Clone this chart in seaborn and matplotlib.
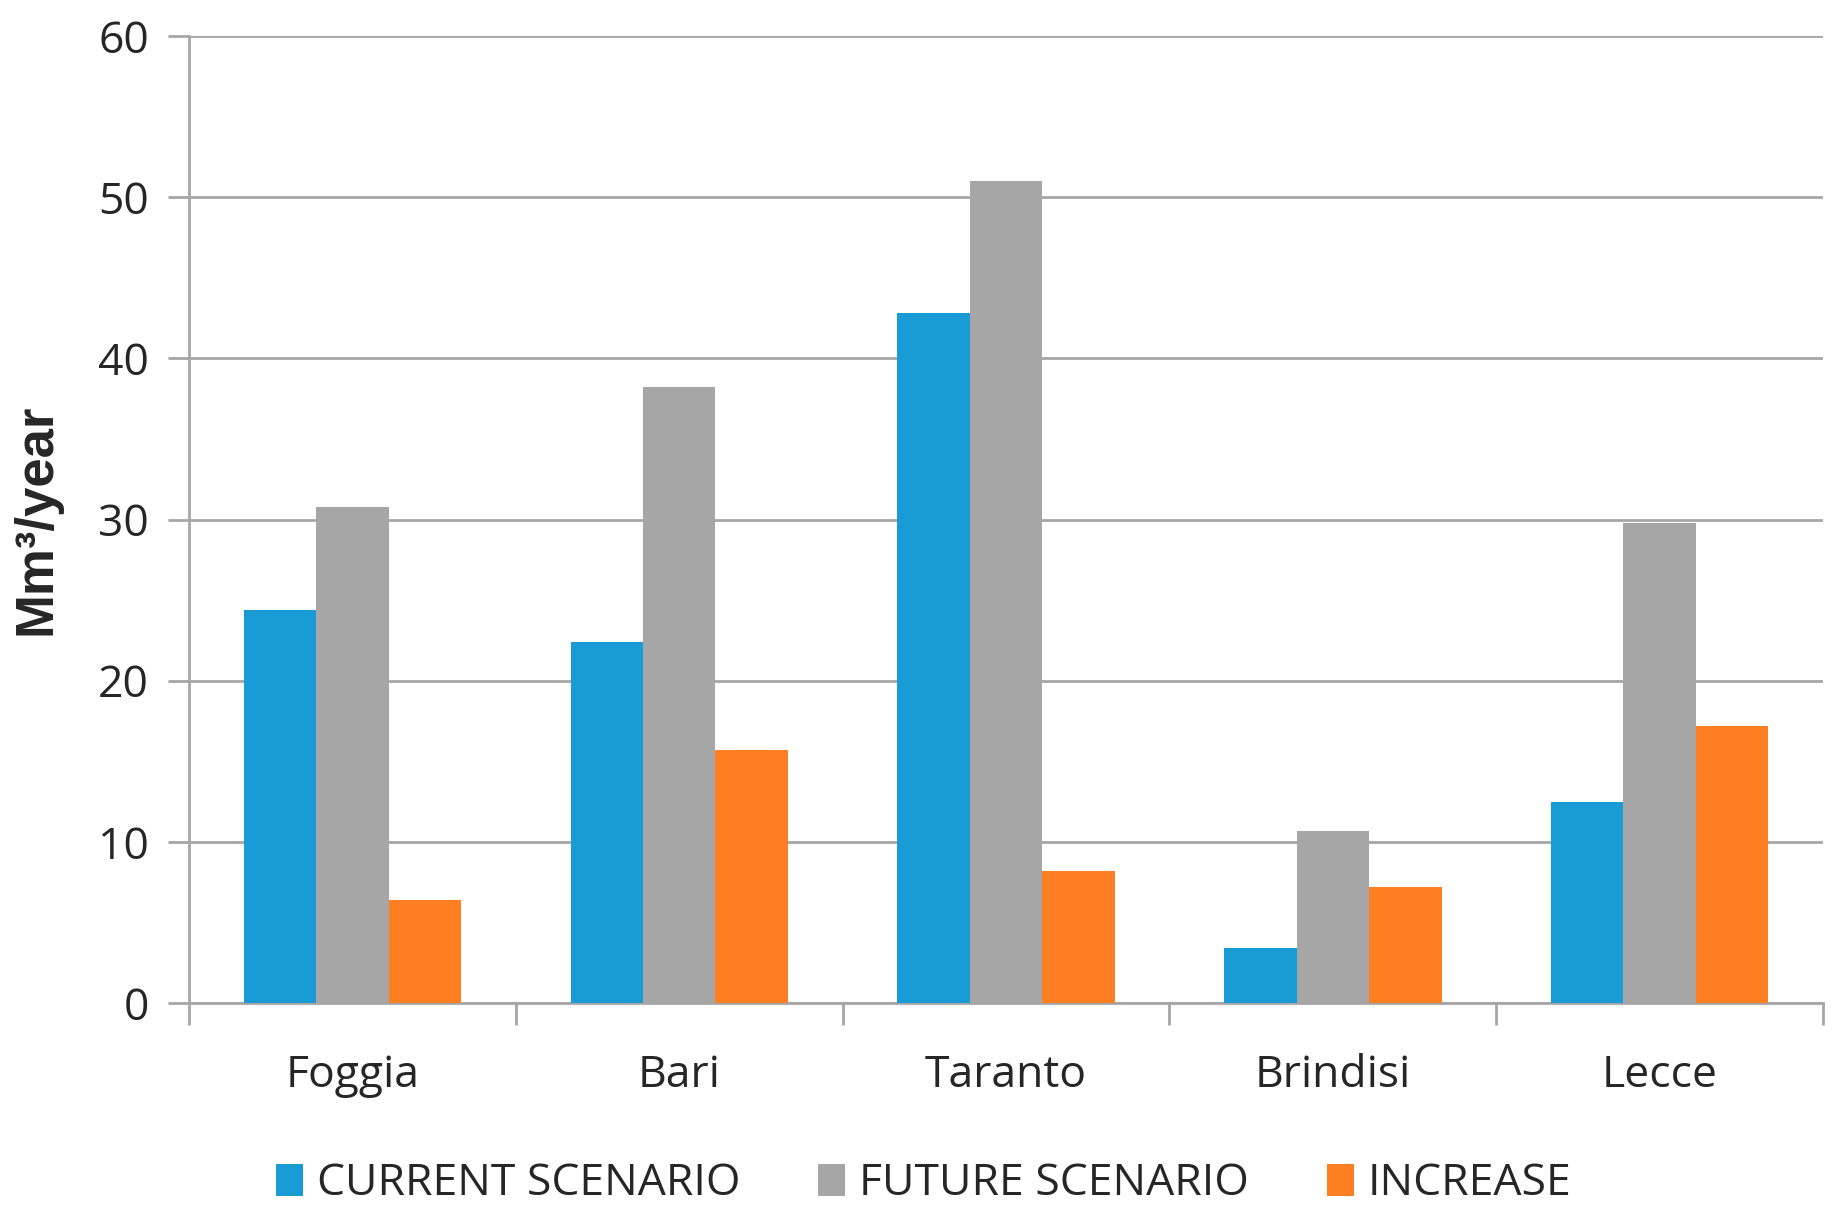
import pandas as pd
import matplotlib.pyplot as plt
import seaborn as sns
from matplotlib.patches import Patch

provinces = ['Foggia', 'Bari', 'Taranto', 'Brindisi', 'Lecce']
series = ['CURRENT SCENARIO', 'FUTURE SCENARIO', 'INCREASE']
current = [24.4, 22.4, 42.8, 3.4, 12.5]
future = [30.8, 38.2, 51.0, 10.7, 29.8]
increase = [6.4, 15.7, 8.2, 7.2, 17.2]
colors = ['#199BD6', '#A6A6A6', '#FE7F22']

df = pd.DataFrame({
    'Province': provinces * 3,
    'Scenario': [series[0]] * 5 + [series[1]] * 5 + [series[2]] * 5,
    'Value': current + future + increase,
})

sns.set_style('white')
plt.rcParams['font.family'] = ['Open Sans', 'DejaVu Sans']

fig = plt.figure(figsize=(18.48, 12.22), dpi=100)
ax = fig.add_axes([0.1023, 0.1792, 0.8842, 0.7913])

sns.barplot(data=df, x='Province', y='Value', hue='Scenario', hue_order=series,
            palette=colors, width=0.665, saturation=1, ax=ax, legend=False,
            linewidth=0, zorder=3)

grid_c = '#A6A6A6'
ax.set_ylim(0, 60)
ax.set_xlim(-0.5, 4.5)
ax.set_yticks(range(0, 61, 10))
ax.yaxis.grid(True, color=grid_c, linewidth=2, zorder=0)
ax.set_axisbelow(True)
for s in ['top', 'right']:
    ax.spines[s].set_visible(False)
for s in ['left', 'bottom']:
    ax.spines[s].set_color(grid_c)
    ax.spines[s].set_linewidth(2)

ax.tick_params(axis='y', which='major', length=15, width=2, color=grid_c,
               labelsize=32, labelcolor='#262626', pad=14, left=True)
ax.tick_params(axis='x', which='major', length=0, labelsize=32,
               labelcolor='#262626', pad=36)
ax.set_xticks([i - 0.5 for i in range(6)], minor=True)
ax.tick_params(axis='x', which='minor', length=16, width=2, color=grid_c, bottom=True)

ax.set_xlabel('')
ax.set_ylabel('Mm³/year', fontsize=38, fontweight='bold',
              family=['Liberation Sans', 'DejaVu Sans'])
ax.yaxis.set_label_coords(-0.078, 0.5)

handles = [Patch(facecolor=c, edgecolor='none') for c in colors]
fig.legend(handles, series, loc='center', bbox_to_anchor=(0.5, 0.031), ncol=3,
           frameon=False, fontsize=32, handlelength=0.6, handleheight=0.75,
           handletextpad=0.32, columnspacing=1.75, labelcolor='#262626')

fig.savefig('out.png', dpi=100)
plt.close()
